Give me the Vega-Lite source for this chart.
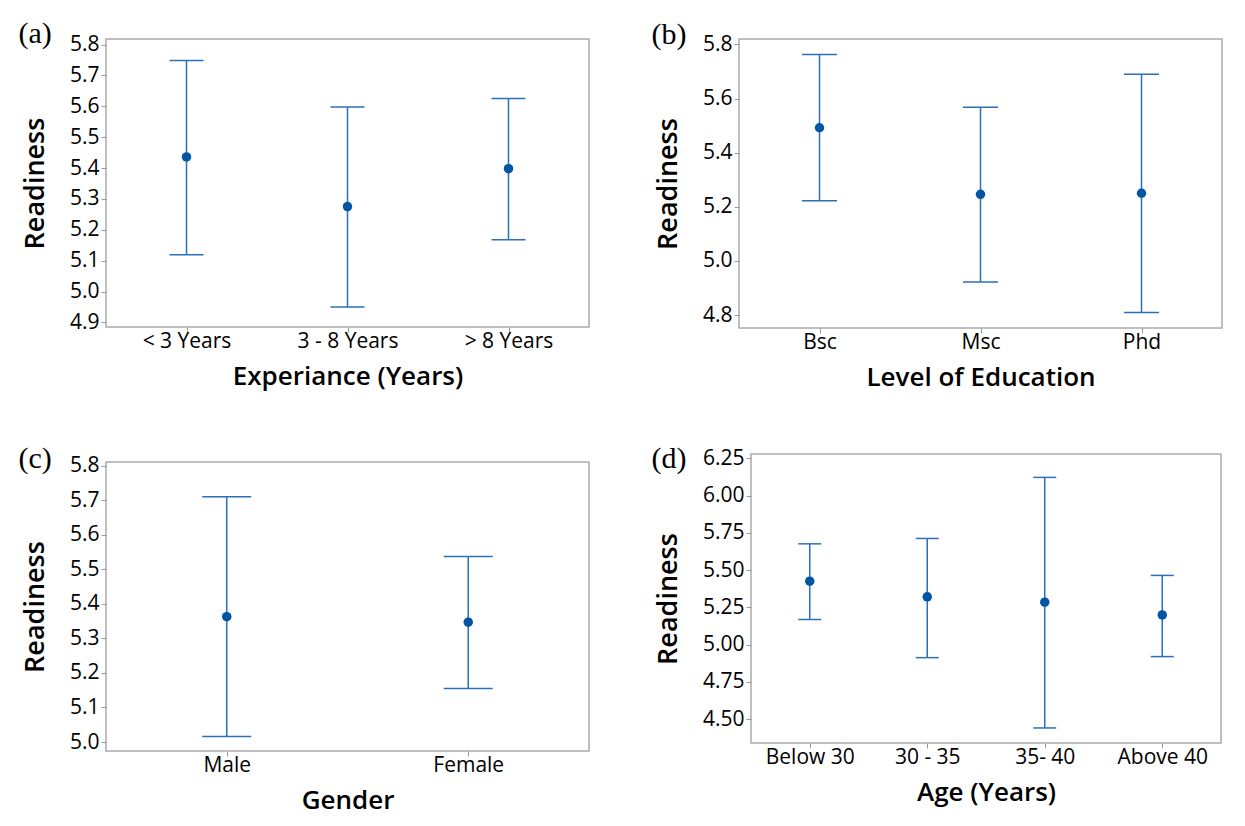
{
  "$schema": "https://vega.github.io/schema/vega-lite/v6.json",
  "background": "white",
  "padding": {"left": 17, "top": 17, "right": 5, "bottom": 5},
  "datasets": {
    "exp": [
      {"cat": "< 3 Years", "mean": 5.436, "lower": 5.119, "upper": 5.748},
      {"cat": "3 - 8 Years", "mean": 5.275, "lower": 4.950, "upper": 5.598},
      {"cat": "> 8 Years", "mean": 5.398, "lower": 5.168, "upper": 5.625}
    ],
    "edu": [
      {"cat": "Bsc", "mean": 5.492, "lower": 5.222, "upper": 5.763},
      {"cat": "Msc", "mean": 5.246, "lower": 4.922, "upper": 5.568},
      {"cat": "Phd", "mean": 5.250, "lower": 4.809, "upper": 5.690}
    ],
    "gender": [
      {"cat": "Male", "mean": 5.363, "lower": 5.016, "upper": 5.710},
      {"cat": "Female", "mean": 5.347, "lower": 5.155, "upper": 5.537}
    ],
    "age": [
      {"cat": "Below 30", "mean": 5.425, "lower": 5.168, "upper": 5.676},
      {"cat": "30 - 35", "mean": 5.320, "lower": 4.912, "upper": 5.712},
      {"cat": "35- 40", "mean": 5.284, "lower": 4.440, "upper": 6.122},
      {"cat": "Above 40", "mean": 5.199, "lower": 4.919, "upper": 5.464}
    ]
  },
  "config": {
    "view": {"stroke": "#ababab", "strokeWidth": 1.5},
    "axis": {
      "domain": false,
      "grid": false,
      "tickColor": "#999999",
      "tickSize": 5,
      "labelOverlap": false,
      "labelFont": "Open Sans",
      "labelFontSize": 21,
      "labelFontWeight": 500,
      "labelColor": "#000000",
      "titleFont": "Open Sans",
      "titleFontWeight": 600,
      "titleColor": "#000000"
    },
    "axisX": {"labelAngle": 0, "titleFontSize": 26, "labelPadding": -2, "titlePadding": 12},
    "axisY": {"titleFontSize": 27, "labelPadding": 2, "titlePadding": 20, "tickCount": 20},
    "title": {
      "anchor": "start",
      "frame": "bounds",
      "font": "Liberation Serif",
      "fontSize": 30,
      "fontWeight": "normal",
      "baseline": "alphabetic",
      "color": "#000000",
      "dy": 22,
      "dx": -3,
      "offset": 0
    }
  },
  "columns": 2,
  "align": "none",
  "spacing": {"row": 52, "column": 60},
  "concat": [
    {
      "title": {"text": "(a)", "dy": 19},
      "width": 483,
      "height": 288,
      "data": {"name": "exp"},
      "encoding": {
        "x": {"field": "cat", "type": "nominal", "sort": null, "scale": {"type": "point", "padding": 0.5}, "title": "Experiance (Years)"}
      },
      "layer": [
        {"mark": {"type": "rule", "color": "#2d6fba", "strokeWidth": 1.5},
         "encoding": {"y": {"field": "lower", "type": "quantitative", "scale": {"domain": [4.885, 5.818], "nice": false, "zero": false}, "axis": {"values": [4.9, 5.0, 5.1, 5.2, 5.3, 5.4, 5.5, 5.6, 5.7, 5.8], "format": ".1f", "tickCount": 20}, "title": "Readiness"}, "y2": {"field": "upper"}}},
        {"mark": {"type": "tick", "orient": "horizontal", "color": "#2d6fba", "size": 34, "thickness": 1.5, "opacity": 1},
         "encoding": {"y": {"field": "lower", "type": "quantitative"}}},
        {"mark": {"type": "tick", "orient": "horizontal", "color": "#2d6fba", "size": 34, "thickness": 1.5, "opacity": 1},
         "encoding": {"y": {"field": "upper", "type": "quantitative"}}},
        {"mark": {"type": "point", "filled": true, "color": "#0055a5", "size": 90, "opacity": 1},
         "encoding": {"y": {"field": "mean", "type": "quantitative"}}}
      ]
    },
    {
      "title": {"text": "(b)", "dy": 21},
      "width": 483,
      "height": 289,
      "data": {"name": "edu"},
      "encoding": {
        "x": {"field": "cat", "type": "nominal", "sort": null, "scale": {"type": "point", "padding": 0.5}, "title": "Level of Education"}
      },
      "layer": [
        {"mark": {"type": "rule", "color": "#2d6fba", "strokeWidth": 1.5},
         "encoding": {"y": {"field": "lower", "type": "quantitative", "scale": {"domain": [4.752, 5.820], "nice": false, "zero": false}, "axis": {"values": [4.8, 5.0, 5.2, 5.4, 5.6, 5.8], "format": ".1f", "tickCount": 20}, "title": "Readiness"}, "y2": {"field": "upper"}}},
        {"mark": {"type": "tick", "orient": "horizontal", "color": "#2d6fba", "size": 35, "thickness": 1.5, "opacity": 1},
         "encoding": {"y": {"field": "lower", "type": "quantitative"}}},
        {"mark": {"type": "tick", "orient": "horizontal", "color": "#2d6fba", "size": 35, "thickness": 1.5, "opacity": 1},
         "encoding": {"y": {"field": "upper", "type": "quantitative"}}},
        {"mark": {"type": "point", "filled": true, "color": "#0055a5", "size": 90, "opacity": 1},
         "encoding": {"y": {"field": "mean", "type": "quantitative"}}}
      ]
    },
    {
      "title": {"text": "(c)", "dy": 23},
      "width": 483,
      "height": 289,
      "data": {"name": "gender"},
      "encoding": {
        "x": {"field": "cat", "type": "nominal", "sort": null, "scale": {"type": "point", "padding": 0.5}, "title": "Gender"}
      },
      "layer": [
        {"mark": {"type": "rule", "color": "#2d6fba", "strokeWidth": 1.5},
         "encoding": {"y": {"field": "lower", "type": "quantitative", "scale": {"domain": [4.974, 5.811], "nice": false, "zero": false}, "axis": {"values": [5.0, 5.1, 5.2, 5.3, 5.4, 5.5, 5.6, 5.7, 5.8], "format": ".1f", "tickCount": 20}, "title": "Readiness"}, "y2": {"field": "upper"}}},
        {"mark": {"type": "tick", "orient": "horizontal", "color": "#2d6fba", "size": 49, "thickness": 1.5, "opacity": 1},
         "encoding": {"y": {"field": "lower", "type": "quantitative"}}},
        {"mark": {"type": "tick", "orient": "horizontal", "color": "#2d6fba", "size": 49, "thickness": 1.5, "opacity": 1},
         "encoding": {"y": {"field": "upper", "type": "quantitative"}}},
        {"mark": {"type": "point", "filled": true, "color": "#0055a5", "size": 90, "opacity": 1},
         "encoding": {"y": {"field": "mean", "type": "quantitative"}}}
      ]
    },
    {
      "title": {"text": "(d)", "dy": 31},
      "width": 470,
      "height": 289,
      "data": {"name": "age"},
      "encoding": {
        "x": {"field": "cat", "type": "nominal", "sort": null, "scale": {"type": "point", "padding": 0.5}, "title": "Age (Years)"}
      },
      "layer": [
        {"mark": {"type": "rule", "color": "#2d6fba", "strokeWidth": 1.5},
         "encoding": {"y": {"field": "lower", "type": "quantitative", "scale": {"domain": [4.339, 6.279], "nice": false, "zero": false}, "axis": {"values": [4.5, 4.75, 5.0, 5.25, 5.5, 5.75, 6.0, 6.25], "format": ".2f", "tickCount": 20}, "title": "Readiness"}, "y2": {"field": "upper"}}},
        {"mark": {"type": "tick", "orient": "horizontal", "color": "#2d6fba", "size": 23, "thickness": 1.5, "opacity": 1},
         "encoding": {"y": {"field": "lower", "type": "quantitative"}}},
        {"mark": {"type": "tick", "orient": "horizontal", "color": "#2d6fba", "size": 23, "thickness": 1.5, "opacity": 1},
         "encoding": {"y": {"field": "upper", "type": "quantitative"}}},
        {"mark": {"type": "point", "filled": true, "color": "#0055a5", "size": 90, "opacity": 1},
         "encoding": {"y": {"field": "mean", "type": "quantitative"}}}
      ]
    }
  ]
}
